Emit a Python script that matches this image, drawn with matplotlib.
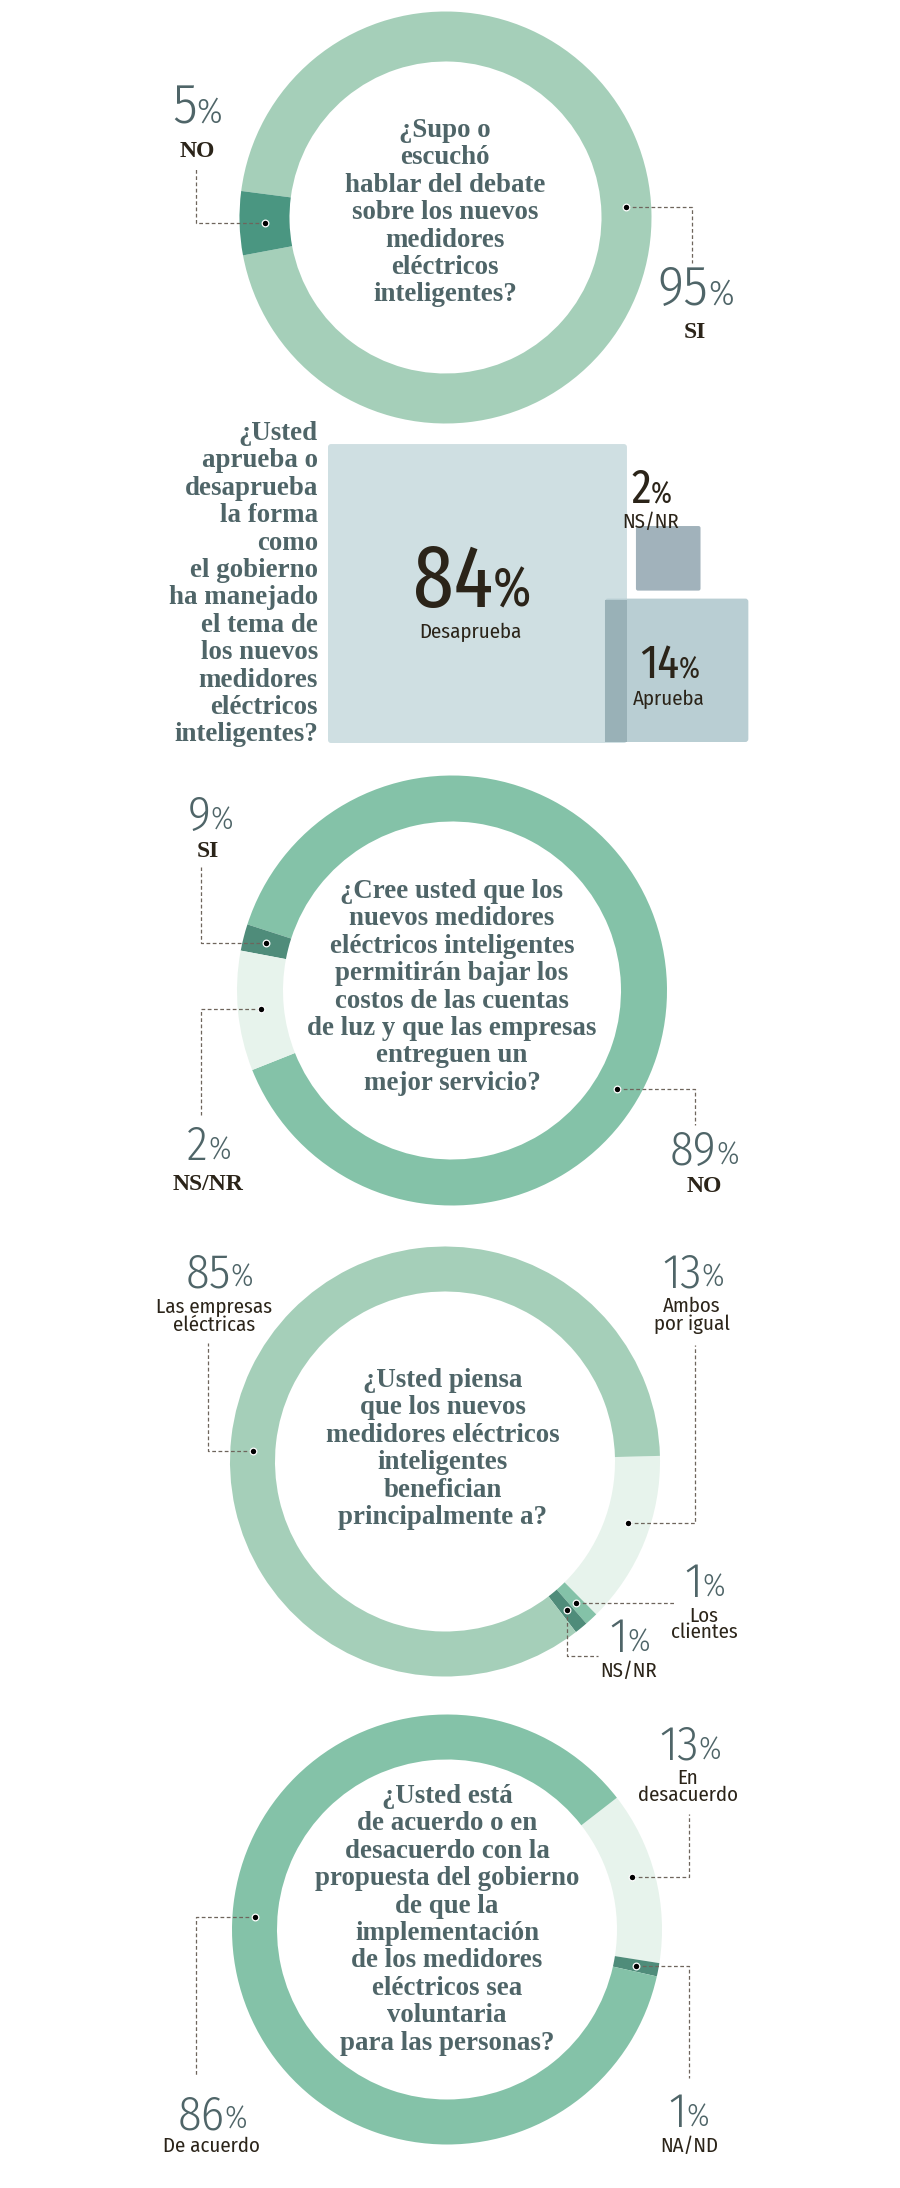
import matplotlib
matplotlib.use('Agg')
import matplotlib.pyplot as plt
from matplotlib.patches import FancyBboxPatch, Rectangle
import numpy as np

W, H = 900, 2188

# ---------------- data ----------------
q1_labels = ['SI', 'NO']
q1_values = [95, 5]

q2_labels = ['Desaprueba', 'Aprueba', 'NS/NR']
q2_values = [84, 14, 2]

# the original ring draws the two small slices crossed (dark slice ~2%, light ~9%)
q3_labels = ['NO', 'SI', 'NS/NR']
q3_values = [89, 9, 2]

q4_labels = ['Ambos\npor igual', 'Los\nclientes', 'NS/NR', 'Las empresas\neléctricas']
q4_values = [13, 1, 1, 85]

q5_labels = ['En\ndesacuerdo', 'NA/ND', 'De acuerdo']
q5_values = [13, 1, 86]

q1_text = ['¿Supo o', 'escuchó', 'hablar del debate', 'sobre los nuevos',
           'medidores', 'eléctricos', 'inteligentes?']
q2_text = ['¿Usted', 'aprueba o', 'desaprueba', 'la forma', 'como', 'el gobierno',
           'ha manejado', 'el tema de', 'los nuevos', 'medidores', 'eléctricos',
           'inteligentes?']
q3_text = ['¿Cree usted que los', 'nuevos medidores', 'eléctricos inteligentes',
           'permitirán bajar los', 'costos de las cuentas', 'de luz y que las empresas',
           'entreguen un', 'mejor servicio?']
q4_text = ['¿Usted piensa', 'que los nuevos', 'medidores eléctricos', 'inteligentes',
           'benefician', 'principalmente a?']
q5_text = ['¿Usted está', 'de acuerdo o en', 'desacuerdo con la', 'propuesta del gobierno',
           'de que la', 'implementación', 'de los medidores', 'eléctricos sea',
           'voluntaria', 'para las personas?']

# ---------------- style ----------------
NUM = ['Fira Sans Condensed', 'Open Sans Condensed', 'DejaVu Sans']
NUM2 = ['Fira Sans Extra Condensed', 'Fira Sans Condensed', 'DejaVu Sans']
SANS = ['Fira Sans Condensed', 'PT Sans Narrow', 'DejaVu Sans']
SERIF = ['Liberation Serif', 'DejaVu Serif']
MAIN1 = '#a5cfb9'
MAIN2 = '#84c2a8'
LIGHT = '#e7f3ec'
DARK1 = '#4a9681'
DARK2 = '#4f8c7a'
QCOL = '#4f6568'
INK = '#2b2419'
LEADER = '#6e655c'

fig = plt.figure(figsize=(W / 100, H / 100), dpi=100)
ax = fig.add_axes([0, 0, 1, 1])
renderer = fig.canvas.get_renderer()


def Y(y):
    return H - y


def question(lines, x, y0, ha='center', step=27.4):
    for i, s in enumerate(lines):
        ax.text(x, Y(y0 + i * step), s, ha=ha, va='baseline', family=SERIF,
                fontweight='bold', fontsize=19.4, color=QCOL)


def pct(xc, yb, value, size=35, color=QCOL, family=NUM, weight=300, ratio=0.64):
    t1 = ax.text(0, 0, str(value), fontsize=size, family=family, fontweight=weight,
                 color=color, ha='left', va='baseline')
    t2 = ax.text(0, 0, '%', fontsize=size * ratio, family=family, fontweight=weight,
                 color=color, ha='left', va='baseline')
    w1 = t1.get_window_extent(renderer).width
    w2 = t2.get_window_extent(renderer).width
    x0 = xc - (w1 + w2) / 2
    t1.set_position((x0, Y(yb)))
    t2.set_position((x0 + w1, Y(yb)))


def tag(xc, yb, text, serif=False, step=18):
    for i, s in enumerate(text.split('\n')):
        if serif:
            ax.text(xc, Y(yb + i * step), s, ha='center', va='baseline', family=SERIF,
                    fontweight='bold', fontsize=17, color=INK)
        else:
            ax.text(xc, Y(yb + i * step), s, ha='center', va='baseline', family=SANS,
                    fontsize=15, color=INK)


def donut(cx, cy, r, w, values, colors, start, ccw):
    wedges, texts = ax.pie(values, colors=colors, startangle=start, counterclock=ccw,
                           radius=r, center=(cx, Y(cy)), frame=True,
                           wedgeprops=dict(width=w, linewidth=0))
    for t in texts:
        t.remove()
    return wedges


def leader(cx, cy, r, w, ang, path):
    rm = r - w / 2
    x0 = cx + rm * np.cos(np.radians(ang))
    y0 = cy - rm * np.sin(np.radians(ang))
    xs, ys = [x0], [y0]
    for kind, v in path:
        if kind == 'x':
            xs.append(v); ys.append(ys[-1])
        else:
            xs.append(xs[-1]); ys.append(v)
    ax.plot(xs, [Y(v) for v in ys], color=LEADER, lw=0.9, ls=(0, (3, 2)), zorder=3)
    ax.plot(x0, Y(y0), 'o', ms=4.8, mfc='black', mec='white', mew=0.9, zorder=4)


def mid(wd):
    return (wd.theta1 + wd.theta2) / 2


# ---------------- 1: ¿Supo o escuchó...? ----------------
c1 = (445.5, 217.5, 206, 50)
wd = donut(*c1, q1_values, [MAIN1, DARK1], 190.6, True)
question(q1_text, 445, 137)
leader(*c1, 3.3, [('x', 692), ('y', 263)])
pct(696, 305, q1_values[0], size=40)
tag(695, 338, q1_labels[0], serif=True)
leader(*c1, mid(wd[1]), [('x', 196), ('y', 167)])
pct(197, 123, q1_values[1], size=40)
tag(197, 157, q1_labels[1], serif=True)

# ---------------- 2: aprueba / desaprueba ----------------
sides = [48.6 * v ** 0.41 for v in q2_values]
x_big, base = 328, 743
s_big, s_apr, s_ns = sides
ax.add_patch(FancyBboxPatch((x_big, Y(base)), s_big, s_big,
                            boxstyle='round,pad=0,rounding_size=3',
                            fc='#cfdfe2', ec='none', zorder=1))
x_apr = x_big + s_big - 22
ax.add_patch(FancyBboxPatch((x_apr, Y(base - 1)), s_apr, s_apr,
                            boxstyle='round,pad=0,rounding_size=3',
                            fc='#b9ced3', ec='none', zorder=1))
ax.add_patch(Rectangle((x_apr, Y(base - 1)), x_big + s_big - x_apr, s_apr - 1,
                       fc='#99b1b7', ec='none', zorder=1.5))
x_ns = x_big + s_big + 9
ax.add_patch(FancyBboxPatch((x_ns, Y(base - 1 - s_apr - 8)), s_ns, s_ns,
                            boxstyle='round,pad=0,rounding_size=2',
                            fc='#a1b2bb', ec='none', zorder=1))
question(q2_text, 318, 440, ha='right')
pct(472, 607, q2_values[0], size=64, color=INK, family=NUM2, weight=400, ratio=0.62)
tag(470, 638, q2_labels[0])
pct(670, 678, q2_values[1], size=35, color=INK, family=NUM2, weight=400, ratio=0.62)
tag(669, 705, q2_labels[1])
pct(652, 503, q2_values[2], size=35, color=INK, family=NUM2, weight=400, ratio=0.62)
tag(651, 528, q2_labels[2])

# ---------------- 3: ¿Cree usted...? ----------------
c3 = (452, 990.5, 215, 46)
wd = donut(*c3, [q3_values[0], q3_values[2], q3_values[1]], [MAIN2, DARK2, LIGHT], 201.7, True)
question(q3_text, 452, 898)
leader(*c3, -31, [('x', 695), ('y', 1125)])
pct(704, 1165, q3_values[0])
tag(704, 1192, q3_labels[0], serif=True)
leader(*c3, mid(wd[1]), [('x', 201), ('y', 867)])
pct(210, 830, q3_values[1])
tag(208, 857, q3_labels[1], serif=True)
leader(*c3, mid(wd[2]), [('x', 201), ('y', 1115)])
pct(209, 1160, q3_values[2])
tag(208, 1190, q3_labels[2], serif=True)

# ---------------- 4: ¿Usted piensa...? ----------------
c4 = (445, 1461.5, 215, 45)
wd = donut(*c4, q4_values, [LIGHT, MAIN2, DARK2, MAIN1], 1.5, False)
question(q4_text, 443, 1387)
leader(*c4, -18.5, [('x', 695), ('y', 1345)])
pct(693, 1287, q4_values[0])
tag(692, 1312, q4_labels[0])
leader(*c4, mid(wd[1]), [('x', 675)])
pct(705, 1597, q4_values[1])
tag(704, 1622, q4_labels[1], step=16)
leader(*c4, mid(wd[2]), [('y', 1656), ('x', 598)])
pct(630, 1652, q4_values[2])
tag(629, 1677, q4_labels[2])
leader(*c4, 176.8, [('x', 208), ('y', 1343)])
pct(219, 1287, q4_values[3])
tag(214, 1313, q4_labels[3])

# ---------------- 5: ¿Usted está de acuerdo...? ----------------
c5 = (447, 1929.5, 215, 45)
wd = donut(*c5, q5_values, [LIGHT, DARK2, MAIN2], 37.8, False)
question(q5_text, 447, 1803)
leader(*c5, 15.8, [('x', 689), ('y', 1814)])
pct(690, 1760, q5_values[0])
tag(688, 1784, q5_labels[0], step=17)
leader(*c5, mid(wd[1]), [('x', 689), ('y', 2078)])
pct(689, 2127, q5_values[1])
tag(689, 2152, q5_labels[1])
leader(*c5, 176.3, [('x', 196), ('y', 2076)])
pct(212, 2129, q5_values[2])
tag(211, 2152, q5_labels[2])

ax.set_xlim(0, W)
ax.set_ylim(0, H)
ax.set_aspect('auto')
ax.axis('off')
fig.savefig('out.png', dpi=100, facecolor='white')
